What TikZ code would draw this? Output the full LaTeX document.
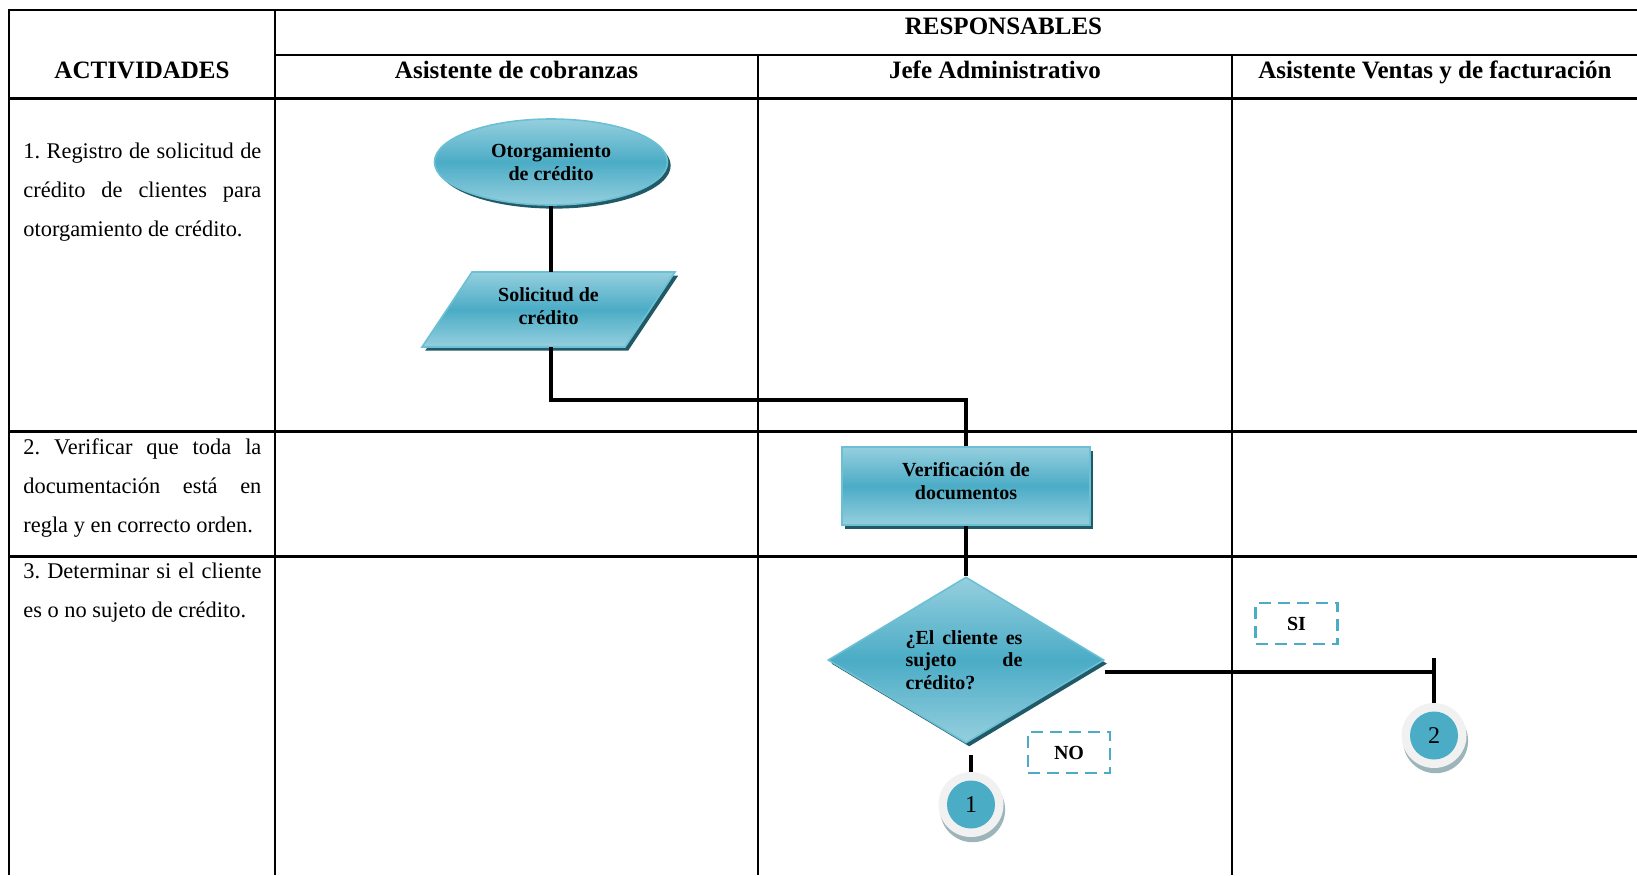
\documentclass[tikz,border=0pt]{standalone}
\usepackage{fontspec}
\setmainfont{Liberation Serif}
\usetikzlibrary{shapes.geometric,shadows}
\frenchspacing

\definecolor{tealmid}{HTML}{4BACC6}
\definecolor{teallight}{HTML}{95CFDE}
\definecolor{tealedge}{HTML}{6CC0D5}
\definecolor{tealshadow}{HTML}{215967}
\definecolor{ringgray}{HTML}{F1F1F1}
\definecolor{ringshade}{HTML}{9DB4BB}

\begin{document}
\begin{tikzpicture}[x=0.5pt,y=-0.5pt,
  grid/.style={line width=1.4pt},
  link/.style={line width=2pt},
  flowshade/.style={top color=teallight, bottom color=teallight, middle color=tealmid,
    draw=tealedge, line width=0.8pt,
    drop shadow={shadow xshift=1.6pt, shadow yshift=-1.8pt, fill=tealshadow, opacity=1}},
  flowtext/.style={font=\fontsize{10}{11.5}\selectfont\bfseries, align=center, inner sep=0pt},
  head/.style={font=\fontsize{12.5}{15}\selectfont\bfseries, anchor=base, inner sep=0pt},
  acttext/.style={font=\fontsize{11.2}{19.5}\selectfont, text width=119pt, align=justify,
    anchor=north west, inner sep=0pt},
  answer/.style={draw=tealmid, dash pattern=on 6pt off 3.5pt, line width=1.3pt,
    minimum width=41pt, minimum height=20.5pt, inner sep=0pt,
    font=\fontsize{10}{12}\selectfont\bfseries},
  ring/.style={circle, minimum size=32.5pt, inner sep=0pt, fill=ringgray,
    drop shadow={shadow xshift=0.8pt, shadow yshift=-2.6pt, fill=ringshade, opacity=1}},
  numdisc/.style={circle, minimum size=24pt, inner sep=0pt, fill=tealmid,
    font=\fontsize{12}{14}\selectfont}
]
\useasboundingbox (0,0) rectangle (1637,875);

% table grid
\draw[grid] (1637,10) -- (9,10) -- (9,875);
\draw[grid] (275,55) -- (1637,55);
\draw[grid] (9,98.5) -- (1637,98.5);
\draw[grid] (9,431.5) -- (1637,431.5);
\draw[grid] (9,556.5) -- (1637,556.5);
\draw[grid] (275,10) -- (275,875);
\draw[grid] (758,55) -- (758,875);
\draw[grid] (1232,55) -- (1232,875);

% headings
\node[head] (hresp) at (1003.5,34) {RESPONSABLES};
\node[head] (hact) at (142,78.5) {ACTIVIDADES};
\node[head] (hcob) at (516.5,78.5) {Asistente de cobranzas};
\node[head] (hjefe) at (995,78.5) {Jefe Administrativo};
\node[head] (hvent) at (1435,78.5) {Asistente Ventas y de facturación};

% activities column
\node[acttext] (act1) at (23,143)
  {1. Registro de solicitud de\linebreak crédito de clientes para\linebreak otorgamiento de crédito.};
\node[acttext] (act2) at (23,438.5)
  {2. Verificar que toda la\linebreak documentación está en\linebreak regla y en correcto orden.};
\node[acttext] (act3) at (23,563)
  {3. Determinar si el cliente\linebreak es o no sujeto de crédito.};

% flow shapes
\node[flowshade, ellipse, minimum width=116.5pt, minimum height=43pt, inner sep=0pt]
  (ell) at (551,162) {};
\node[flowtext] (elltext) at (551,162) {Otorgamiento\\de crédito};

\path[flowshade] (422,347) -- (472,272) -- (675,272) -- (625,347) -- cycle;
\node[minimum width=100pt, minimum height=37.5pt, inner sep=0pt]
  (sol) at (548.5,309.5) {};
\node[flowtext] (soltext) at (548.5,306) {Solicitud de\\crédito};

\node[flowshade, rectangle, minimum width=124pt, minimum height=39pt, inner sep=0pt]
  (ver) at (966,486) {};
\node[flowtext] (vertext) at (966,481) {Verificación de\\documentos};

\node[flowshade, diamond, minimum width=138pt, minimum height=83pt, inner sep=0pt]
  (dia) at (966,660) {};
\node[font=\fontsize{10}{11.25}\selectfont\bfseries, text width=58.5pt, align=justify,
  inner sep=0pt] (dtext) at (964,660)
  {¿El cliente es\linebreak sujeto de\linebreak crédito?};

% off-page connectors
\node[ring] (c1) at (971,804.5) {};
\node[numdisc] (n1) at (c1.center) {1};
\node[ring] (c2) at (1434,735.5) {};
\node[numdisc] (n2) at (c2.center) {2};

% answer labels
\node[answer] (no) at (1069,752.5) {NO};
\node[answer] (si) at (1296.5,623.5) {SI};

% connectors
\coordinate (turn) at (551,400);
\draw[link] (ell.south) -- (ell.south |- sol.north);
\draw[link] (ell.south |- sol.south) -- (ell.south |- turn) -| (ver.north);
\draw[link] (ver.south) -- (dia.north);
\coordinate (siA) at ([yshift=-6pt]dia.east);
\draw[link] (siA) -- (siA -| c2.north);
\draw[link] (c2.north) -- ++(0,-45);
\draw[link] (c1.north) -- ++(0,-17);
\end{tikzpicture}
\end{document}
